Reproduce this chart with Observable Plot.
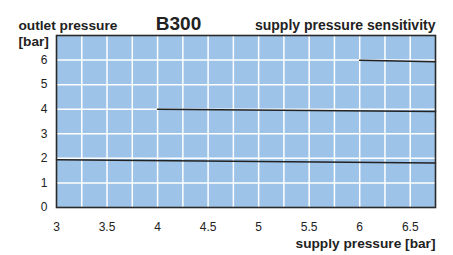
<!DOCTYPE html>
<html><head><meta charset="utf-8">
<script src="https://cdn.jsdelivr.net/npm/d3@7"></script>
<script src="https://cdn.jsdelivr.net/npm/@observablehq/plot@0.6"></script>
<style>body{margin:0;background:#fff}</style>
</head><body>
<div id="chart"></div>
<script>
const title = "B300";
const yTitle1 = "outlet pressure";
const yTitle2 = "[bar]";
const rightTitle = "supply pressure sensitivity";
const xTitle = "supply pressure [bar]";

const xTicks = [3, 3.5, 4, 4.5, 5, 5.5, 6, 6.5];
const xGrid = [3.25, 3.5, 3.75, 4, 4.25, 4.5, 4.75, 5, 5.25, 5.5, 5.75, 6, 6.25, 6.5];
const yTicks = [0, 1, 2, 3, 4, 5, 6];
const yGrid = [1, 2, 3, 4, 5, 6];

const seriesNames = ["2 bar", "4 bar", "6 bar"];
const seriesSupply = [[3, 6.75], [4, 6.75], [6, 6.75]];
const seriesOutlet = [[1.94, 1.81], [4.0, 3.91], [5.99, 5.93]];

const rows = seriesNames.flatMap((s, i) => seriesSupply[i].map((x, j) => ({s, x, y: seriesOutlet[i][j]})));

const font = "'Liberation Sans', Arial, Helvetica, sans-serif";
const bold = {fontWeight: "bold", fill: "#222"};

const chart = Plot.plot({
  width: 453, height: 255,
  marginLeft: 56, marginRight: 18, marginTop: 35, marginBottom: 48,
  style: {fontFamily: font, fontSize: "12px", color: "#222", background: "#fff", overflow: "visible"},
  x: {domain: [3, 6.75], label: null},
  y: {domain: [0, 7], label: null},
  marks: [
    Plot.frame({fill: "#9dc3e8", stroke: null}),
    Plot.ruleX(xGrid, {stroke: "#fff", strokeWidth: 1.5}),
    Plot.ruleY(yGrid, {stroke: "#fff", strokeWidth: 1.5}),
    Plot.line(rows, {x: "x", y: "y", z: "s", stroke: "#222", strokeWidth: 1.5}),
    Plot.frame({stroke: "#2a2a2a", strokeWidth: 1.6}),
    Plot.axisX({ticks: xTicks, tickFormat: d => String(d), tickSize: 0, tickPadding: 15, fontSize: 12, label: null}),
    Plot.axisY({ticks: yTicks, tickFormat: d => String(d), tickSize: 0, tickPadding: 9, fontSize: 12, label: null}),
    Plot.text([yTitle1], {frameAnchor: "top-left", text: d => d, textAnchor: "start", lineAnchor: "bottom", dx: -38, dy: -6, fontSize: 13.7, ...bold}),
    Plot.text([yTitle2], {frameAnchor: "top-left", text: d => d, textAnchor: "start", lineAnchor: "bottom", dx: -38, dy: 10, fontSize: 13.7, ...bold}),
    Plot.text([title], {frameAnchor: "top-left", text: d => d, textAnchor: "middle", lineAnchor: "bottom", dx: 122, dy: -6, fontSize: 19, ...bold}),
    Plot.text([rightTitle], {frameAnchor: "top-right", text: d => d, textAnchor: "end", lineAnchor: "bottom", dx: 0, dy: -6, fontSize: 14, ...bold}),
    Plot.text([xTitle], {frameAnchor: "bottom-right", text: d => d, textAnchor: "end", lineAnchor: "top", dx: 0, dy: 31, fontSize: 13.7, ...bold})
  ]
});
document.getElementById("chart").appendChild(chart);
</script>
</body></html>
